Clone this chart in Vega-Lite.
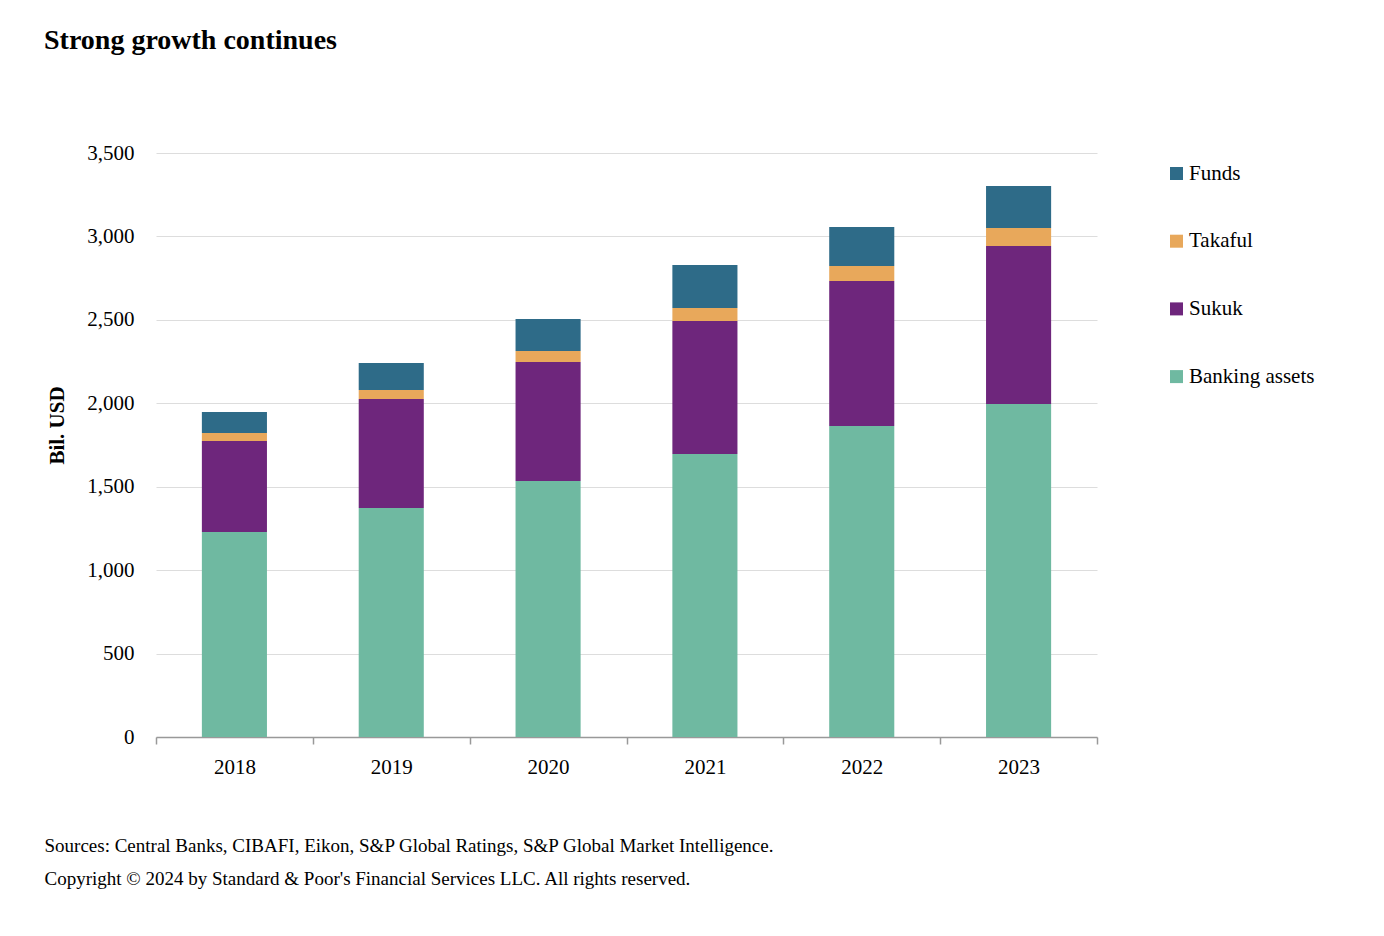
{
  "$schema": "https://vega.github.io/schema/vega-lite/v6.json",
  "autosize": {"type": "none"},
  "width": 941,
  "height": 584,
  "padding": {"left": 156, "top": 153, "right": 287, "bottom": 199},
  "background": "white",
  "title": {
    "text": "Strong growth continues",
    "anchor": "start",
    "frame": "group",
    "dx": -112,
    "offset": 65,
    "baseline": "alphabetic",
    "font": "Liberation Serif",
    "fontSize": 28,
    "fontWeight": "bold",
    "color": "#000000"
  },
  "config": {
    "view": {"stroke": null},
    "font": "Liberation Serif"
  },
  "data": {
    "values": [
      {"year": "2018", "category": "Banking assets", "value": 1229, "rank": 1},
      {"year": "2018", "category": "Sukuk", "value": 545, "rank": 2},
      {"year": "2018", "category": "Takaful", "value": 48, "rank": 3},
      {"year": "2018", "category": "Funds", "value": 126, "rank": 4},
      {"year": "2019", "category": "Banking assets", "value": 1372, "rank": 1},
      {"year": "2019", "category": "Sukuk", "value": 654, "rank": 2},
      {"year": "2019", "category": "Takaful", "value": 54, "rank": 3},
      {"year": "2019", "category": "Funds", "value": 161, "rank": 4},
      {"year": "2020", "category": "Banking assets", "value": 1534, "rank": 1},
      {"year": "2020", "category": "Sukuk", "value": 713, "rank": 2},
      {"year": "2020", "category": "Takaful", "value": 66, "rank": 3},
      {"year": "2020", "category": "Funds", "value": 192, "rank": 4},
      {"year": "2021", "category": "Banking assets", "value": 1696, "rank": 1},
      {"year": "2021", "category": "Sukuk", "value": 797, "rank": 2},
      {"year": "2021", "category": "Takaful", "value": 78, "rank": 3},
      {"year": "2021", "category": "Funds", "value": 258, "rank": 4},
      {"year": "2022", "category": "Banking assets", "value": 1864, "rank": 1},
      {"year": "2022", "category": "Sukuk", "value": 869, "rank": 2},
      {"year": "2022", "category": "Takaful", "value": 90, "rank": 3},
      {"year": "2022", "category": "Funds", "value": 233, "rank": 4},
      {"year": "2023", "category": "Banking assets", "value": 1996, "rank": 1},
      {"year": "2023", "category": "Sukuk", "value": 947, "rank": 2},
      {"year": "2023", "category": "Takaful", "value": 107, "rank": 3},
      {"year": "2023", "category": "Funds", "value": 252, "rank": 4}
    ]
  },
  "mark": {"type": "bar", "width": {"band": 0.415}},
  "encoding": {
    "x": {
      "field": "year",
      "type": "nominal",
      "scale": {"paddingInner": 0, "paddingOuter": 0},
      "axis": {
        "title": ["Sources: Central Banks, CIBAFI, Eikon, S&P Global Ratings, S&P Global Market Intelligence.", "Copyright © 2024 by Standard & Poor's Financial Services LLC. All rights reserved."],
        "titleX": -112,
        "titleY": 114,
        "titleAlign": "left",
        "titleAnchor": null,
        "titleBaseline": "alphabetic",
        "titleFontWeight": "normal",
        "titleFontSize": 19,
        "titleLineHeight": 33,
        "titleColor": "#000000",
        "titleFont": "Liberation Serif",
        "labelAngle": 0,
        "labelFontSize": 21,
        "labelColor": "#000000",
        "labelPadding": 12,
        "domainColor": "#999999",
        "domainWidth": 1.5,
        "tickColor": "#999999",
        "tickWidth": 1.5,
        "tickSize": 7,
        "tickBand": "extent",
        "grid": false
      }
    },
    "y": {
      "field": "value",
      "type": "quantitative",
      "stack": "zero",
      "scale": {"domain": [0, 3500], "nice": false},
      "axis": {
        "title": "Bil. USD",
        "titleX": -93,
        "titleY": 272,
        "titleAngle": -90,
        "titleAlign": "center",
        "titleAnchor": null,
        "titleBaseline": "alphabetic",
        "titleFontSize": 21,
        "titleFontWeight": "bold",
        "titleColor": "#000000",
        "values": [0, 500, 1000, 1500, 2000, 2500, 3000, 3500],
        "format": ",.0f",
        "labelFontSize": 21,
        "labelColor": "#000000",
        "labelPadding": 22,
        "domain": false,
        "ticks": false,
        "grid": true,
        "gridColor": "#dddddd",
        "gridWidth": 1
      }
    },
    "color": {
      "field": "category",
      "type": "nominal",
      "scale": {
        "domain": ["Funds", "Takaful", "Sukuk", "Banking assets"],
        "range": ["#2e6b88", "#e8a85b", "#6e267c", "#6fb9a1"]
      },
      "legend": {
        "title": null,
        "orient": "none",
        "legendX": 1010,
        "legendY": 10,
        "symbolType": "square",
        "symbolSize": 169,
        "symbolStrokeWidth": 0,
        "labelFontSize": 21,
        "labelColor": "#000000",
        "labelOffset": 2,
        "rowPadding": 45.7,
        "labelLimit": 300
      }
    },
    "order": {"field": "rank", "type": "quantitative", "sort": "ascending"}
  }
}
